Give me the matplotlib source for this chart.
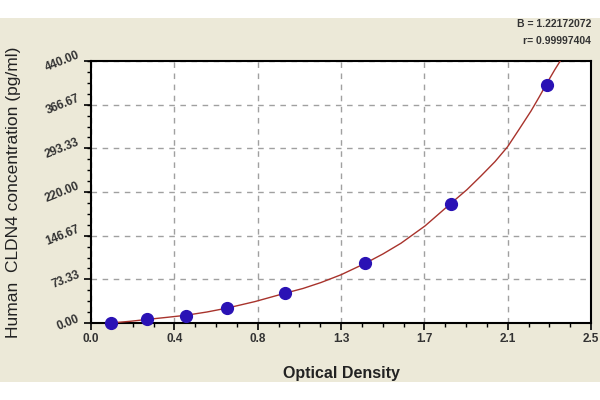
import matplotlib
matplotlib.use('Agg')
import matplotlib.pyplot as plt
from matplotlib.patches import Rectangle
from matplotlib.ticker import AutoMinorLocator, FixedLocator

# standard points (OD, concentration)
od = [0.10, 0.28, 0.475, 0.68, 0.97, 1.37, 1.80, 2.28]
conc = [0.0, 6.25, 12.5, 25.0, 50.0, 100.0, 200.0, 400.0]

# fitted curve
curve_x = [0.10, 0.20, 0.28, 0.38, 0.475, 0.58, 0.68, 0.82, 0.97, 1.06, 1.15, 1.25, 1.37,
           1.46, 1.55, 1.67, 1.80, 1.88, 1.95, 2.02, 2.083, 2.14, 2.20, 2.24, 2.28, 2.32, 2.35]
curve_y = [0.0, 3.0, 6.0, 9.5, 13.0, 18.5, 25.0, 36.0, 50.0, 58.0, 68.0, 81.0, 100.0,
           116.0, 134.0, 163.0, 201.0, 224.0, 247.0, 271.0, 296.0, 325.0, 356.0, 379.0, 403.0, 426.0, 442.0]

x_ticks = [0.0, 2.5/6, 2*2.5/6, 3*2.5/6, 4*2.5/6, 5*2.5/6, 2.5]
x_labels = ['0.0', '0.4', '0.8', '1.3', '1.7', '2.1', '2.5']
y_ticks = [0.0, 73.33, 146.67, 220.0, 293.33, 366.67, 440.0]
y_labels = ['0.00', '73.33', '146.67', '220.00', '293.33', '366.67', '440.00']

beige = '#ece9d8'
plt.rcParams['font.family'] = ['Liberation Sans', 'DejaVu Sans']

fig = plt.figure(figsize=(6, 4), dpi=100)
fig.patch.set_facecolor('white')
fig.patches.append(Rectangle((0, 0.045), 1, 0.91, transform=fig.transFigure,
                             facecolor=beige, edgecolor='none', zorder=-10))

ax = fig.add_axes([0.1517, 0.1925, 0.8333, 0.655])
ax.set_facecolor('white')

ax.plot(curve_x, curve_y, color='#a8332c', lw=1.0, zorder=3, clip_on=True)
ax.plot(od, conc, 'o', color='#2a12b5', markersize=8.5, zorder=4, clip_on=False)

ax.set_xlim(0, 2.5)
ax.set_ylim(0, 440)
ax.xaxis.set_major_locator(FixedLocator(x_ticks))
ax.yaxis.set_major_locator(FixedLocator(y_ticks))
ax.set_xticklabels(x_labels)
ax.set_yticklabels(y_labels, rotation=22, va='center', ha='right')
ax.xaxis.set_minor_locator(AutoMinorLocator(4))
ax.yaxis.set_minor_locator(AutoMinorLocator(4))

ax.tick_params(which='major', direction='out', length=5, width=1.2, color='black',
               labelsize=8.5, pad=2)
ax.tick_params(which='minor', direction='out', length=3, width=1.0, color='black')
for lab in ax.get_xticklabels() + ax.get_yticklabels():
    lab.set_fontweight('bold')
    lab.set_color('#333333')

ax.grid(True, which='major', color='#a0a0a0', linestyle=(0, (4, 4)), lw=1.0)
for s in ax.spines.values():
    s.set_linewidth(1.5)
    s.set_color('black')

ax.set_xlabel('Optical Density', fontsize=11.5, fontweight='bold', color='#222222', labelpad=15)
ax.set_ylabel('Human  CLDN4 concentration (pg/ml)', fontsize=12.5, color='#222222',
              labelpad=16)

fig.text(0.985, 0.94, 'B = 1.22172072', ha='right', va='center', fontsize=7.5,
         fontweight='bold', color='#333333')
fig.text(0.985, 0.898, 'r= 0.99997404', ha='right', va='center', fontsize=7.5,
         fontweight='bold', color='#333333')

fig.savefig('out.png', dpi=100, facecolor=fig.get_facecolor())
